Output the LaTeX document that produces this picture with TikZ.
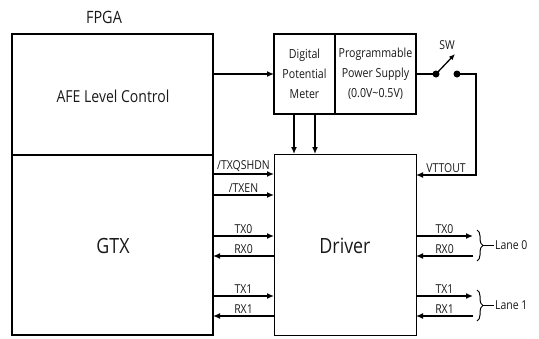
\documentclass[tikz,border=0pt]{standalone}
\usepackage{fontspec}
\setmainfont[FakeStretch=0.85]{Open Sans}
\usetikzlibrary{arrows.meta,decorations.pathreplacing}

\begin{document}
\begin{tikzpicture}[x=1pt,y=-1pt,
  box/.style={draw, line width=1.2pt, inner sep=0pt, outer sep=0pt, anchor=north west},
  thickbox/.style={draw, line width=2.8pt, inner sep=0pt, outer sep=0pt, anchor=north west},
  wire/.style={line width=1.3pt},
  sig/.style={wire, -{Latex[length=7pt,width=6pt]}},
  smalltxt/.style={font=\fontsize{12.3}{14}\selectfont, text=black!90},
  lbl/.style={smalltxt, above, inner sep=1.5pt},
  bigtxt/.style={font=\fontsize{21}{24}\selectfont, text=black!90},
  midtxt/.style={font=\fontsize{16.5}{20}\selectfont, text=black!90},
  boxtxt/.style={font=\fontsize{12.5}{20}\selectfont, align=center, text=black!90},
  lanebrace/.style={line width=1pt, decorate, decoration={brace, amplitude=6pt}},
  dot/.style={circle, fill=black, inner sep=0pt, minimum size=7pt}
]
\useasboundingbox (0,0) rectangle (539,338);

% FPGA with its two blocks
\node[font=\fontsize{17}{20}\selectfont, text=black!90] (fpgalbl) at (104,17) {FPGA};
\node[thickbox, minimum width=201pt, minimum height=301pt] (fpga) at (12,34) {};
\coordinate (divL) at (12,155);
\coordinate (divR) at (213,155);
\draw[line width=1.5pt] (divL) -- (divR);
\node[midtxt] (afe) at (113,96) {AFE Level Control};
\node[bigtxt] (gtx) at (113,246) {GTX};

% Potentiometer and supply
\node[box, minimum width=61pt, minimum height=80pt, boxtxt] (dpm) at (274,34) {Digital\\Potential\\Meter};
\node[box, minimum width=81pt, minimum height=80pt, boxtxt] (pps) at (335,34) {Programmable\\Power Supply\\(0.0V\textasciitilde0.5V)};

% Driver
\node[box, line width=1pt, minimum width=142pt, minimum height=181pt] (drv) at (274,154) {};
\node[bigtxt] (drvtxt) at (345,246) {Driver};

% Control path
\draw[sig] (fpga.east |- dpm.west) -- (dpm.west);
\draw[sig] ([xshift=-10.5pt]dpm.south) -- ([xshift=-10.5pt]dpm.south |- drv.north);
\draw[sig] ([xshift=10.5pt]dpm.south) -- ([xshift=10.5pt]dpm.south |- drv.north);

% Switch
\node[dot] (swA) at (436,74) {};
\node[dot] (swB) at (457,74) {};
\coordinate (swTip) at (455,54);
\coordinate (vtCorner) at (476,74);
\coordinate (vtRow) at (0,175);
\node[smalltxt] (swlbl) at (447,45) {SW};
\draw[wire] (pps.east |- swA) -- (swA.center);
\draw[wire, -{Latex[length=6pt,width=5pt]}] (swA.center) -- (swTip);
\draw[sig] (swB.center) -- (vtCorner) |- node[lbl, pos=0.75] {VTTOUT} (drv.east |- vtRow);

% Row positions of the data signals
\coordinate (r1) at (0,174);
\coordinate (r2) at (0,195);
\coordinate (r3) at (0,236);
\coordinate (r4) at (0,256);
\coordinate (r5) at (0,296);
\coordinate (r6) at (0,316);
\coordinate (laneX) at (473,0);

% FPGA to driver
\draw[sig] (fpga.east |- r1) -- node[lbl] {/TXQSHDN} (drv.west |- r1);
\draw[sig] (fpga.east |- r2) -- node[lbl] {/TXEN} (drv.west |- r2);
\draw[sig] (fpga.east |- r3) -- node[lbl] {TX0} (drv.west |- r3);
\draw[sig] (drv.west |- r4) -- node[lbl] {RX0} (fpga.east |- r4);
\draw[sig] (fpga.east |- r5) -- node[lbl] {TX1} (drv.west |- r5);
\draw[sig] (drv.west |- r6) -- node[lbl] {RX1} (fpga.east |- r6);

% Driver to lanes
\draw[sig] (drv.east |- r3) -- node[lbl] {TX0} (laneX |- r3);
\draw[sig] (laneX |- r4) -- node[lbl] {RX0} (drv.east |- r4);
\draw[sig] (drv.east |- r5) -- node[lbl] {TX1} (laneX |- r5);
\draw[sig] (laneX |- r6) -- node[lbl] {RX1} (drv.east |- r6);

% Lane braces
\coordinate (b0a) at (477,230);
\coordinate (b0b) at (477,261);
\coordinate (b0t) at (483,245.5);
\coordinate (b0e) at (494,245.5);
\draw[lanebrace] (b0a) -- (b0b);
\draw[line width=1pt] (b0t) -- (b0e);
\node[smalltxt, anchor=west, inner sep=1pt] (lane0) at (b0e) {Lane 0};

\coordinate (b1a) at (477,290);
\coordinate (b1b) at (477,321);
\coordinate (b1t) at (483,305.5);
\coordinate (b1e) at (494,305.5);
\draw[lanebrace] (b1a) -- (b1b);
\draw[line width=1pt] (b1t) -- (b1e);
\node[smalltxt, anchor=west, inner sep=1pt] (lane1) at (b1e) {Lane 1};
\end{tikzpicture}
\end{document}
